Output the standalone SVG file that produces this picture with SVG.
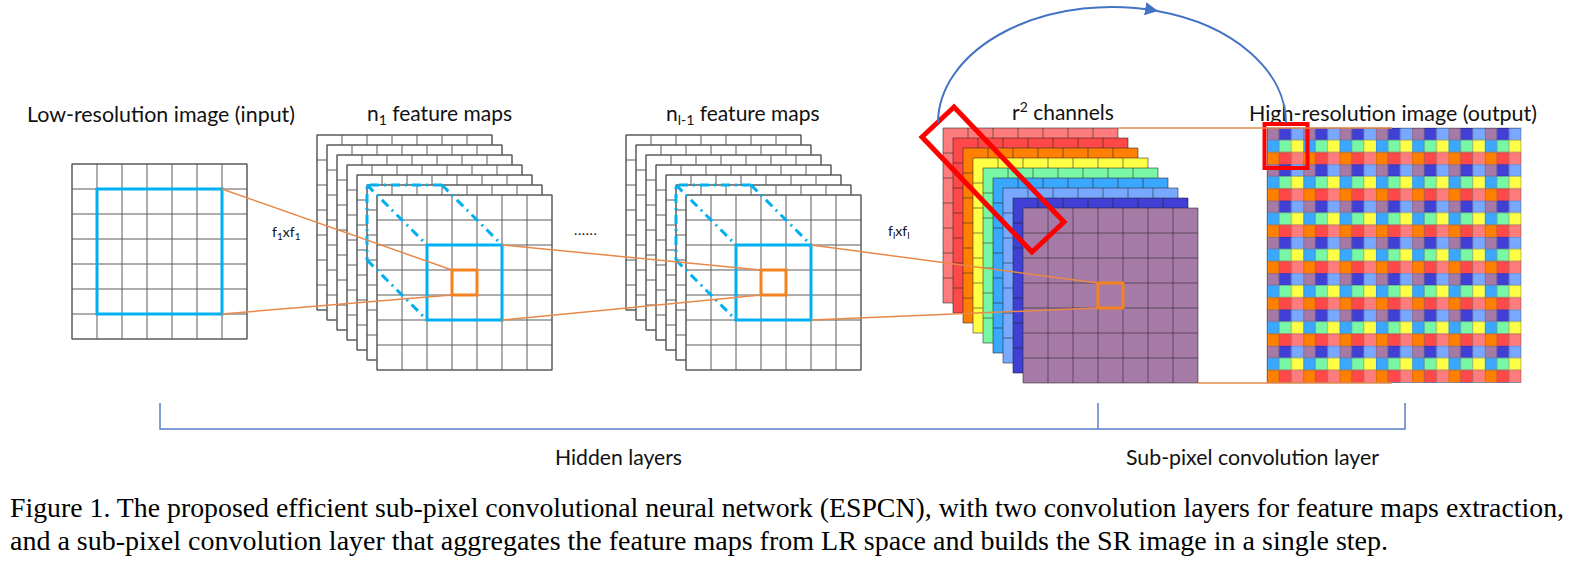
<svg xmlns="http://www.w3.org/2000/svg" width="1587" height="568" viewBox="0 0 1587 568">
<style>
.lbl{font-family:Lato,"Open Sans",sans-serif;font-size:21px;fill:#111}
.sm{font-family:Lato,"Open Sans",sans-serif;font-size:14px;fill:#111}
.cap{font-family:"Liberation Serif","Times New Roman",serif;font-size:27px;fill:#000}
.gw{stroke:#5a5a5a;stroke-width:1;fill:none}
.gc{stroke:#222;stroke-opacity:0.55;stroke-width:1;fill:none}
.blue{fill:none;stroke:#00B0F0;stroke-width:3}
.dd{fill:none;stroke:#00B0F0;stroke-width:3;stroke-dasharray:9 5 2 5}
.osq{fill:none;stroke:#F58220;stroke-width:3}
.ol{stroke:#E8894A;stroke-width:1.5;fill:none}
.red{fill:none;stroke:#FF0000;stroke-width:5}
.arc{fill:none;stroke:#4472C4;stroke-width:2}
.br{fill:none;stroke:#5B7FC7;stroke-width:1.5}
</style>
<defs>
<g id="lines7"><path d="M25 0V175M50 0V175M75 0V175M100 0V175M125 0V175M150 0V175M0 25H175M0 50H175M0 75H175M0 100H175M0 125H175M0 150H175M0 0H175V175H0Z"/></g>
<g id="w7"><rect width="175" height="175" fill="#fff"/><use href="#lines7"/></g>
<pattern id="hrp" patternUnits="userSpaceOnUse" x="1267" y="128" width="36.3" height="36.3">
<rect x="0" y="0" width="12.15" height="12.15" fill="#A67AA6"/>
<rect x="12.1" y="0" width="12.15" height="12.15" fill="#4040D6"/>
<rect x="24.2" y="0" width="12.15" height="12.15" fill="#78A8FF"/>
<rect x="0" y="12.1" width="12.15" height="12.15" fill="#3BA8FF"/>
<rect x="12.1" y="12.1" width="12.15" height="12.15" fill="#78F8A4"/>
<rect x="24.2" y="12.1" width="12.15" height="12.15" fill="#FFFF45"/>
<rect x="0" y="24.2" width="12.15" height="12.15" fill="#FF8000"/>
<rect x="12.1" y="24.2" width="12.15" height="12.15" fill="#FF4848"/>
<rect x="24.2" y="24.2" width="12.15" height="12.15" fill="#FF7C7C"/>
<path d="M0 0H36.3M0 12.1H36.3M0 24.2H36.3M0 0V36.3M12.1 0V36.3M24.2 0V36.3" stroke="#000" stroke-opacity="0.28" stroke-width="1"/>
</pattern>
<marker id="ah" viewBox="0 0 10 10" refX="10" refY="5" markerWidth="13" markerHeight="13" markerUnits="userSpaceOnUse" orient="auto"><path d="M0 0L10 5L0 10z" fill="#4472C4"/></marker>
</defs>
<rect width="1587" height="568" fill="#fff"/>

<g id="lr-image">
<text class="lbl" x="27" y="122" textLength="268" lengthAdjust="spacingAndGlyphs">Low-resolution image (input)</text>
<use href="#w7" x="72" y="164" class="gw"/>
<rect class="blue" x="97" y="189" width="125" height="125"/>
</g>

<g id="n1-maps">
<text class="lbl" x="367" y="121">n<tspan font-size="14" dy="4">1</tspan><tspan dy="-4"> feature maps</tspan></text>
<use href="#w7" x="317" y="135" class="gw"/>
<use href="#w7" x="327" y="145" class="gw"/>
<use href="#w7" x="337" y="155" class="gw"/>
<use href="#w7" x="347" y="165" class="gw"/>
<use href="#w7" x="357" y="175" class="gw"/>
<use href="#w7" x="367" y="185" class="gw"/>
<use href="#w7" x="377" y="195" class="gw"/>
<path class="dd" d="M442 185H367V260M367 185L427 245M442 185L502 245M367 260L427 320"/>
<rect class="blue" x="427" y="245" width="75" height="75"/>
<rect class="osq" x="452" y="270" width="25" height="25"/>
</g>

<g id="nl1-maps">
<text class="lbl" x="666" y="121">n<tspan font-size="14" dy="4">l-1</tspan><tspan dy="-4"> feature maps</tspan></text>
<use href="#w7" x="626" y="135" class="gw"/>
<use href="#w7" x="636" y="145" class="gw"/>
<use href="#w7" x="646" y="155" class="gw"/>
<use href="#w7" x="656" y="165" class="gw"/>
<use href="#w7" x="666" y="175" class="gw"/>
<use href="#w7" x="676" y="185" class="gw"/>
<use href="#w7" x="686" y="195" class="gw"/>
<path class="dd" d="M751 185H676V260M676 185L736 245M751 185L811 245M676 260L736 320"/>
<rect class="blue" x="736" y="245" width="75" height="75"/>
<rect class="osq" x="761" y="270" width="25" height="25"/>
</g>

<g id="r2-channels">
<text class="lbl" x="1012" y="120">r<tspan font-size="14" dy="-8">2</tspan><tspan dy="8"> channels</tspan></text>
<rect x="943" y="128" width="175" height="175" fill="#FF7C7C"/><use href="#lines7" x="943" y="128" class="gc"/>
<rect x="953" y="138" width="175" height="175" fill="#FF4848"/><use href="#lines7" x="953" y="138" class="gc"/>
<rect x="963" y="148" width="175" height="175" fill="#FF8000"/><use href="#lines7" x="963" y="148" class="gc"/>
<rect x="973" y="158" width="175" height="175" fill="#FFFF45"/><use href="#lines7" x="973" y="158" class="gc"/>
<rect x="983" y="168" width="175" height="175" fill="#78F8A4"/><use href="#lines7" x="983" y="168" class="gc"/>
<rect x="993" y="178" width="175" height="175" fill="#3BA8FF"/><use href="#lines7" x="993" y="178" class="gc"/>
<rect x="1003" y="188" width="175" height="175" fill="#78A8FF"/><use href="#lines7" x="1003" y="188" class="gc"/>
<rect x="1013" y="198" width="175" height="175" fill="#4040D6"/><use href="#lines7" x="1013" y="198" class="gc"/>
<rect x="1023" y="208" width="175" height="175" fill="#A67AA6"/><use href="#lines7" x="1023" y="208" class="gc"/>
<rect class="osq" x="1098" y="283" width="25" height="25"/>
<polygon class="red" points="954,107 922,137 1032,252 1064,222"/>
</g>

<g id="hr-image">
<text class="lbl" x="1249" y="121" textLength="288" lengthAdjust="spacingAndGlyphs">High-resolution image (output)</text>
<rect x="1267" y="128" width="254" height="254.5" fill="url(#hrp)" stroke="#000" stroke-opacity="0.28"/>
<rect x="1264.5" y="124" width="43" height="44" fill="none" stroke="#FF0000" stroke-width="4"/>
</g>

<g id="connectors">
<path class="ol" d="M222 189L452 270M222 314L452 295M502 245L761 270M502 320L761 295M811 245L1098 283M811 320L1098 308M1118 128H1392M1198 383H1392"/>
<path class="arc" d="M938 123A174 116 0 0 1 1158 11.1" marker-end="url(#ah)"/>
<path class="arc" d="M1157 11A174 116 0 0 1 1286 123"/>
</g>

<g id="annotations">
<text class="sm" x="272" y="237">f<tspan font-size="10" dy="3">1</tspan><tspan dy="-3">xf</tspan><tspan font-size="10" dy="3">1</tspan></text>
<text class="sm" x="574" y="235" letter-spacing="0.6">......</text>
<text class="sm" x="888" y="236">f<tspan font-size="10" dy="3">l</tspan><tspan dy="-3">xf</tspan><tspan font-size="10" dy="3">l</tspan></text>
</g>

<g id="brackets">
<path class="br" d="M160 403V429H1405V403M1098 403V429"/>
<text class="lbl" x="555" y="465" textLength="127" lengthAdjust="spacingAndGlyphs">Hidden layers</text>
<text class="lbl" x="1126" y="465" textLength="253" lengthAdjust="spacingAndGlyphs">Sub-pixel convolution layer</text>
</g>

<g id="caption">
<text class="cap" x="10" y="517" textLength="1554" lengthAdjust="spacingAndGlyphs">Figure 1. The proposed efficient sub-pixel convolutional neural network (ESPCN), with two convolution layers for feature maps extraction,</text>
<text class="cap" x="10" y="550" textLength="1378" lengthAdjust="spacingAndGlyphs">and a sub-pixel convolution layer that aggregates the feature maps from LR space and builds the SR image in a single step.</text>
</g>
</svg>
